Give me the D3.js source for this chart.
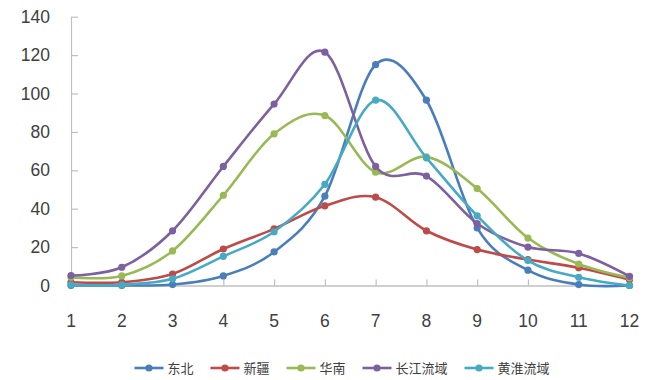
<!DOCTYPE html>
<html>
<head>
<meta charset="utf-8">
<script src="https://cdn.jsdelivr.net/npm/d3@7/dist/d3.min.js"></script>
<style>
  html, body { margin: 0; padding: 0; background: #fff; }
  svg { display: block; }
</style>
</head>
<body>
<svg id="chart" width="654" height="380"></svg>
<script>
// Months on the category axis
const months = [1, 2, 3, 4, 5, 6, 7, 8, 9, 10, 11, 12];
const yTicks = [0, 20, 40, 60, 80, 100, 120, 140];

// Series names and monthly values
const seriesNames = ["东北", "新疆", "华南", "长江流域", "黄淮流域"];
const dongbei   = [0, 0, 0.5, 5, 17.5, 46.5, 115, 96.5, 30, 8, 0.5, 0];
const xinjiang  = [1.7, 1.7, 6, 19, 29.5, 41.5, 46, 28.5, 18.7, 13.5, 9.2, 3];
const huanan    = [4.3, 5, 18, 47, 79, 88.5, 59, 67, 50.5, 24.7, 11.2, 4];
const changjiang= [5.2, 9.5, 28.5, 62, 94.5, 121.5, 62, 57, 32.3, 20, 16.7, 4.8];
const huanghuai = [0.4, 0.4, 3.5, 15.2, 28, 52.7, 96.5, 66.5, 36.3, 13, 4.3, 0];
const seriesColors = ["#4a7ebb", "#be4b48", "#98b954", "#7d60a0", "#46aac5"];

const seriesData = [dongbei, xinjiang, huanan, changjiang, huanghuai];

const svg = d3.select("#chart");
const plotLeft = 71, plotRight = 629.5, plotTop = 16.7, plotBottom = 285.5;

const x = d3.scaleLinear().domain([1, 12]).range([plotLeft, plotRight]);
const y = d3.scaleLinear().domain([0, 140]).range([plotBottom, plotTop]);

const axisColor = "#bfbfbf";
const textColor = "#404040";
const numFont = "'Liberation Sans', Arial, sans-serif";

// Y axis: ticks point into the plot
const yAxis = svg.append("g")
  .attr("transform", `translate(${plotLeft},0)`)
  .call(d3.axisRight(y).tickValues(yTicks).tickSize(7).tickSizeOuter(0).tickFormat(""));
yAxis.select(".domain").attr("stroke", axisColor).attr("stroke-width", 1.2);
yAxis.selectAll(".tick line").attr("stroke", axisColor).attr("stroke-width", 1.2);

svg.append("g").selectAll("text")
  .data(yTicks)
  .join("text")
  .attr("x", 50)
  .attr("y", d => y(d))
  .attr("dy", "0.35em")
  .attr("text-anchor", "end")
  .attr("font-family", numFont)
  .attr("font-size", 17.5)
  .attr("fill", textColor)
  .text(d => d);

// X axis: ticks point upward at each month
const xAxis = svg.append("g")
  .attr("transform", `translate(0,${plotBottom})`)
  .call(d3.axisTop(x).tickValues(months).tickSize(6).tickSizeOuter(0).tickFormat(""));
xAxis.select(".domain").attr("stroke", axisColor).attr("stroke-width", 1.4);
xAxis.selectAll(".tick line").attr("stroke", axisColor).attr("stroke-width", 1.2);

svg.append("g").selectAll("text")
  .data(months)
  .join("text")
  .attr("x", d => x(d))
  .attr("y", 327)
  .attr("text-anchor", "middle")
  .attr("font-family", numFont)
  .attr("font-size", 17.5)
  .attr("fill", textColor)
  .text(d => d);

// Smoothed lines with round markers
const line = d3.line()
  .x((d, i) => x(months[i]))
  .y(d => y(d))
  .curve(d3.curveCardinal.tension(0));

seriesData.forEach((vals, si) => {
  const g = svg.append("g");
  g.append("path")
    .datum(vals)
    .attr("d", line)
    .attr("fill", "none")
    .attr("stroke", seriesColors[si])
    .attr("stroke-width", 2.6)
    .attr("stroke-linejoin", "round")
    .attr("stroke-linecap", "round");
  g.selectAll("circle")
    .data(vals)
    .join("circle")
    .attr("cx", (d, i) => x(months[i]))
    .attr("cy", d => y(d))
    .attr("r", 3.6)
    .attr("fill", seriesColors[si]);
});

// Legend along the bottom
const legend = svg.append("g");
const legendY = 368;
let cursor = 0;
seriesNames.forEach((name, i) => {
  const item = legend.append("g").attr("transform", `translate(${cursor},0)`);
  item.append("line")
    .attr("x1", 0).attr("x2", 29)
    .attr("y1", legendY).attr("y2", legendY)
    .attr("stroke", seriesColors[i]).attr("stroke-width", 2.6);
  item.append("circle")
    .attr("cx", 14.5).attr("cy", legendY).attr("r", 3.6)
    .attr("fill", seriesColors[i]);
  const t = item.append("text")
    .attr("x", 33)
    .attr("y", legendY)
    .attr("dy", "0.36em")
    .attr("font-family", "'Noto Sans CJK SC', sans-serif")
    .attr("font-size", 13)
    .attr("fill", textColor)
    .text(name);
  cursor += 33 + t.node().getComputedTextLength() + 17;
});
const legendWidth = cursor - 17;
legend.attr("transform", `translate(${342 - legendWidth / 2},0)`);
</script>
</body>
</html>
